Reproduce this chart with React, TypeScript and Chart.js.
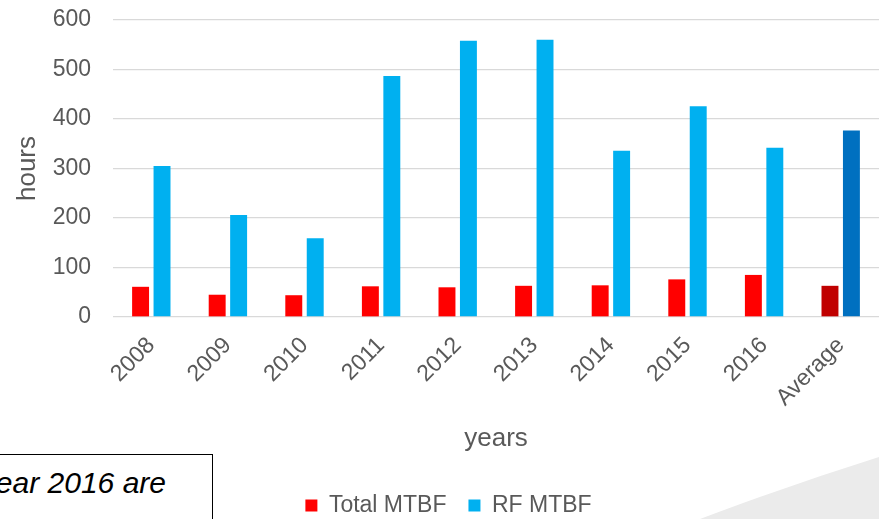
import React, { useEffect, useRef } from "react";
import { Chart, registerables } from "chart.js";

Chart.register(...registerables);

const categories = ["2008", "2009", "2010", "2011", "2012", "2013", "2014", "2015", "2016", "Average"];
const totalMTBF = [61, 45, 44, 62, 60, 63, 64, 76, 85, 63];
const rfMTBF = [305, 206, 159, 487, 558, 560, 336, 426, 342, 377];
const yTicks = [0, 100, 200, 300, 400, 500, 600];
const seriesNames = ["Total MTBF", "RF MTBF"];

const FONT = "'Liberation Sans', Arial, sans-serif";
const GREY = "#595959";

export default function App() {
  const ref = useRef<HTMLCanvasElement | null>(null);

  useEffect(() => {
    document.body.style.margin = "0";
    const canvas = ref.current;
    if (!canvas) return;
    const redCols = categories.map((c) => (c === "Average" ? "#C00000" : "#FF0000"));
    const blueCols = categories.map((c) => (c === "Average" ? "#0070C0" : "#00B0F0"));
    const legendShift = {
      id: "legendShift",
      afterLayout(chart: any) {
        if (chart.legend) {
          chart.legend.left += 9;
          chart.legend.right += 9;
        }
      },
    };
    const chart = new Chart(canvas, {
      type: "bar",
      data: {
        labels: categories,
        datasets: [
          {
            label: seriesNames[0],
            data: totalMTBF,
            backgroundColor: redCols,
            borderWidth: 0,
            categoryPercentage: 0.56,
            barPercentage: 0.79,
          },
          {
            label: seriesNames[1],
            data: rfMTBF,
            backgroundColor: blueCols,
            borderWidth: 0,
            categoryPercentage: 0.56,
            barPercentage: 0.79,
          },
        ],
      },
      options: {
        animation: false,
        responsive: false,
        maintainAspectRatio: false,
        layout: { padding: { top: 20, left: 0, right: 0, bottom: 0 } },
        plugins: {
          tooltip: { enabled: false },
          legend: {
            position: "bottom",
            labels: {
              boxWidth: 12,
              boxHeight: 12,
              padding: 22,
              color: GREY,
              font: { family: FONT, size: 23 },
              generateLabels: () =>
                seriesNames.map((n, i) => ({
                  text: n,
                  fillStyle: i === 0 ? "#FF0000" : "#00B0F0",
                  strokeStyle: "transparent",
                  lineWidth: 0,
                  hidden: false,
                  datasetIndex: i,
                  fontColor: GREY,
                })),
            },
          },
        },
        scales: {
          x: {
            grid: { display: false },
            border: { display: false },
            ticks: {
              color: GREY,
              font: { family: FONT, size: 23 },
              minRotation: 45,
              maxRotation: 45,
              autoSkip: false,
              padding: 7,
            },
            title: {
              display: true,
              text: "years",
              color: GREY,
              font: { family: FONT, size: 26 },
              padding: { top: 4, bottom: 18 },
            },
            afterFit: (scale: any) => {
              scale.height = 155;
              scale.paddingLeft = 0;
              scale.paddingRight = 0;
              scale.paddingTop = 0;
              scale.paddingBottom = 0;
            },
          },
          y: {
            min: 0,
            max: 600,
            grid: { color: "#D9D9D9", lineWidth: 1.3, drawTicks: false },
            border: { display: false },
            afterBuildTicks: (scale: any) => {
              scale.ticks = yTicks.map((v) => ({ value: v }));
            },
            ticks: {
              color: GREY,
              font: { family: FONT, size: 23 },
              padding: 22,
            },
            title: {
              display: true,
              text: "hours",
              color: GREY,
              font: { family: FONT, size: 26 },
              padding: { top: 12, bottom: 0 },
            },
            afterFit: (scale: any) => {
              scale.width = 113;
              scale.paddingTop = 0;
              scale.paddingBottom = 0;
              scale.paddingLeft = 0;
              scale.paddingRight = 0;
            },
          },
        },
      },
      plugins: [legendShift],
    });
    return () => chart.destroy();
  }, []);

  return (
    <div style={{ position: "relative", width: 879, height: 519, overflow: "hidden", background: "#fff" }}>
      <svg width={879} height={519} style={{ position: "absolute", left: 0, top: 0 }}>
        <path d="M 700 519 Q 790 485 879 457 L 879 519 Z" fill="#EBEBEB" />
      </svg>
      <canvas ref={ref} width={879} height={527} style={{ position: "absolute", left: 0, top: 0 }} />
      <div
        style={{
          position: "absolute",
          left: -120,
          top: 454,
          width: 333,
          height: 100,
          border: "1.3px solid #000",
          background: "#fff",
          boxSizing: "border-box",
        }}
      >
        <div
          style={{
            position: "absolute",
            right: 46,
            top: 10,
            whiteSpace: "nowrap",
            fontFamily: FONT,
            fontStyle: "italic",
            fontSize: 30,
            lineHeight: "36px",
            color: "#000",
          }}
        >
          year 2016 are
        </div>
      </div>
    </div>
  );
}
